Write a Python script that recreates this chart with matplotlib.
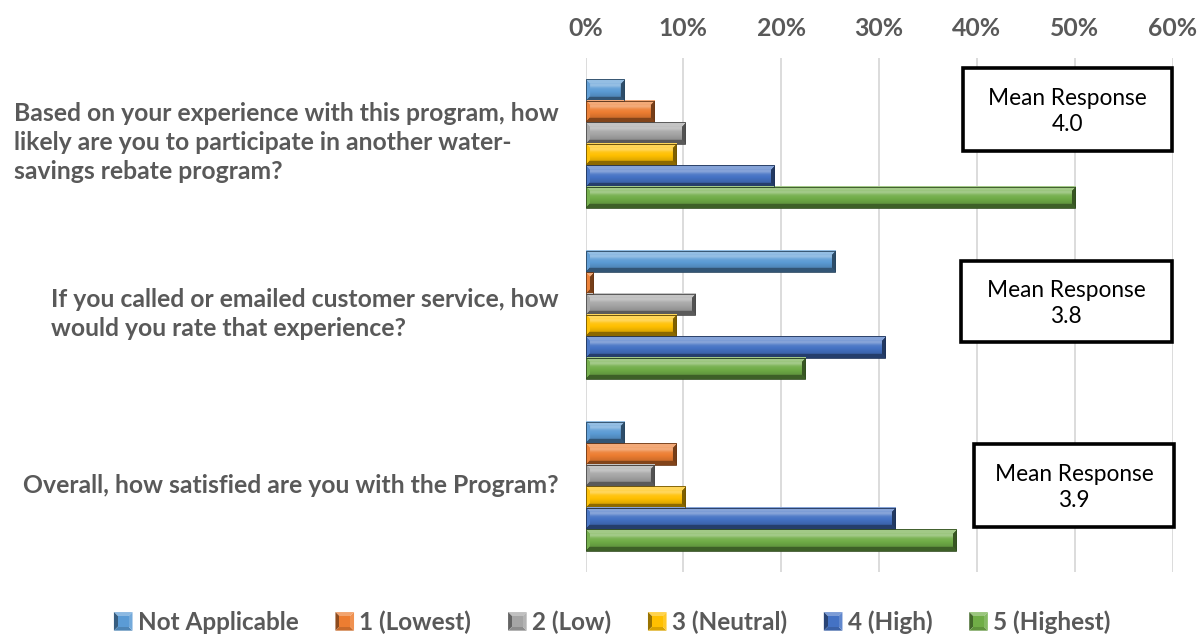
import numpy as np
import matplotlib
matplotlib.use("Agg")
import matplotlib.pyplot as plt
from matplotlib.patches import Rectangle, Polygon
from matplotlib.legend_handler import HandlerBase
from matplotlib.colors import to_rgb

# ---- data -------------------------------------------------------------
questions = [
    "Based on your experience with this program, how\nlikely are you to participate in another water-\nsavings rebate program?",
    "If you called or emailed customer service, how\nwould you rate that experience?",
    "Overall, how satisfied are you with the Program?",
]
series_names = ["Not Applicable", "1 (Lowest)", "2 (Low)", "3 (Neutral)", "4 (High)", "5 (Highest)"]
not_applicable = [3.9, 25.5, 3.9]
lowest = [7.0, 0.8, 9.2]
low = [10.2, 11.2, 7.0]
neutral = [9.2, 9.2, 10.2]
high = [19.3, 30.6, 31.6]
highest = [50.0, 22.4, 37.9]
mean_responses = ["4.0", "3.8", "3.9"]
x_ticks = [0, 10, 20, 30, 40, 50, 60]
x_tick_labels = ["0%", "10%", "20%", "30%", "40%", "50%", "60%"]

series_values = [not_applicable, lowest, low, neutral, high, highest]
series_colors = ["#5B9BD5", "#ED7D31", "#A5A5A5", "#FFC000", "#4472C4", "#70AD47"]

TEXT_GREY = "#595959"
FONT = ["Lato", "DejaVu Sans"]
LABEL_SIZE = 17.8

W_PX, H_PX, DPI = 1199, 637, 100
fig = plt.figure(figsize=(W_PX / DPI, H_PX / DPI), dpi=DPI)
plt.rcParams["font.family"] = FONT

# plot area in pixels
ax_left, ax_right, ax_top, ax_bottom = 585.5, 1172.5, 58, 572
ax = fig.add_axes([ax_left / W_PX, 1 - ax_bottom / H_PX,
                   (ax_right - ax_left) / W_PX, (ax_bottom - ax_top) / H_PX])
ax.set_xlim(0, 60)
ax.set_ylim(2.5, -0.5)

bar_h = 0.1254
n_series = len(series_values)
px_x = (ax_right - ax_left) / 60.0
px_y = (ax_bottom - ax_top) / 3.0


def shade(c, f):
    c = np.asarray(c)
    if f >= 1:
        return c + (1 - c) * (f - 1)
    return c * f


def bevel_image(color, w, h, b=4.0):
    base = np.array(to_rgb(color))
    nx = max(int(round(w)), 1)
    ny = max(int(round(h)), 1)
    xs = np.arange(nx) + 0.5
    ys = np.arange(ny) + 0.5
    X, Y = np.meshgrid(xs, ys)
    dt, db, dl, dr = Y, ny - Y, X, nx - X
    t = ys / ny
    # interior vertical profile: bright stripe in the upper part, darker base
    prof = np.interp(t, [0.0, 0.12, 0.28, 0.42, 0.7, 1.0],
                     [1.25, 1.15, 1.4, 1.08, 0.92, 0.75])
    img = np.zeros((ny, nx, 3))
    for i in range(ny):
        img[i, :, :] = shade(base, prof[i])
    m = np.minimum.reduce([dt, db, dl, dr])
    edge = m < b
    which = np.argmin(np.stack([dt, db, dl, dr]), axis=0)
    facs = [1.35, 0.55, 1.05, 0.5]
    for k, f in enumerate(facs):
        sel = edge & (which == k)
        img[sel] = shade(base, f)
    return np.clip(img, 0, 1)


for j, (vals, col) in enumerate(zip(series_values, series_colors)):
    for i, v in enumerate(vals):
        yc = i + (j - (n_series - 1) / 2) * bar_h
        y0, y1 = yc - bar_h / 2, yc + bar_h / 2
        img = bevel_image(col, v * px_x, bar_h * px_y)
        ax.imshow(img, extent=(0, v, y1, y0), aspect="auto",
                  interpolation="bilinear", zorder=3)
        ax.add_patch(Rectangle((0, y0), v, bar_h, fill=False,
                               edgecolor=shade(to_rgb(col), 0.45),
                               linewidth=0.6, zorder=4))

ax.set_xlim(0, 60)
ax.set_ylim(2.5, -0.5)

ax.set_xticks(x_ticks)
ax.set_xticklabels(x_tick_labels)
ax.xaxis.tick_top()
ax.tick_params(axis="x", length=0, pad=13, labelsize=LABEL_SIZE, labelcolor=TEXT_GREY)
for lab in ax.get_xticklabels():
    lab.set_fontweight("bold")
ax.set_yticks([])
ax.grid(axis="x", color="#D9D9D9", linewidth=1.3, zorder=0)
ax.set_axisbelow(True)
for s in ax.spines.values():
    s.set_visible(False)

# category labels, right-aligned block with left-aligned lines
label_right = 559 / W_PX
for i, q in enumerate(questions):
    ypix = ax_top + (i + 0.5) * px_y - 1
    fig.text(label_right, 1 - ypix / H_PX, q, ha="right", va="center",
             multialignment="left", fontsize=LABEL_SIZE, fontweight="bold",
             color=TEXT_GREY, linespacing=1.3)

# mean response boxes (pixel coordinates)
boxes = [(962.7, 68.3, 1171.7, 150.7), (960.7, 260.7, 1171.7, 342.3), (974, 444, 1174, 526.7)]
for (x0, y0, x1, y1), mval in zip(boxes, mean_responses):
    fig.add_artist(Rectangle((x0 / W_PX, 1 - y1 / H_PX), (x1 - x0) / W_PX, (y1 - y0) / H_PX,
                             transform=fig.transFigure, facecolor="white",
                             edgecolor="black", linewidth=2.6, zorder=10))
    cx = (x0 + x1) / 2 / W_PX
    cy = 1 - ((y0 + y1) / 2 + 2) / H_PX
    fig.text(cx, cy, "Mean Response\n" + mval, ha="center", va="center",
             fontsize=16.3, color="black", linespacing=1.3, zorder=11)


class BevelHandler(HandlerBase):
    def create_artists(self, legend, orig_handle, xdescent, ydescent,
                       width, height, fontsize, trans):
        base = np.array(to_rgb(orig_handle.get_facecolor()))
        s = height
        x0 = -xdescent + (width - s) / 2
        y0 = -ydescent + (height - s) / 2
        cx, cy = x0 + s / 2, y0 + s / 2
        ll, lr, ur, ul = (x0, y0), (x0 + s, y0), (x0 + s, y0 + s), (x0, y0 + s)
        tris = [((ul, ur, (cx, cy)), 1.3), ((ll, ul, (cx, cy)), 0.6),
                ((ll, lr, (cx, cy)), 0.85), ((lr, ur, (cx, cy)), 1.15)]
        arts = []
        for pts, f in tris:
            p = Polygon(pts, closed=True, facecolor=shade(base, f),
                        edgecolor="none", transform=trans)
            arts.append(p)
        inner = s * 0.2
        arts.append(Rectangle((x0 + inner, y0 + inner), s - 2 * inner, s - 2 * inner,
                              facecolor=base, edgecolor="none", transform=trans))
        return arts


handles = [Rectangle((0, 0), 1, 1, facecolor=c) for c in series_colors]
leg = fig.legend(handles, series_names, loc="center",
                 bbox_to_anchor=(612 / W_PX, 1 - 622 / H_PX), ncol=6,
                 frameon=False, handler_map={Rectangle: BevelHandler()},
                 handlelength=0.8, handleheight=0.8, handletextpad=0.2,
                 columnspacing=1.5, prop={"family": FONT, "size": 17.5, "weight": "bold"})
for t in leg.get_texts():
    t.set_color(TEXT_GREY)

fig.savefig("out.png", dpi=DPI, facecolor="white")
